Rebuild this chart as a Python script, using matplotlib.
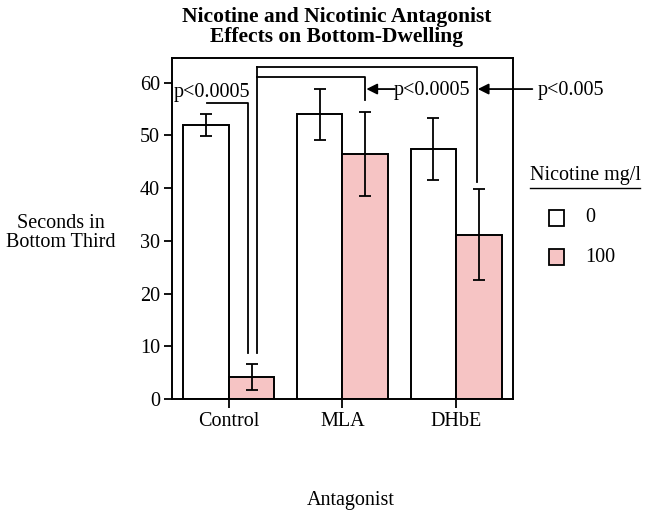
import numpy as np
import matplotlib
matplotlib.use('Agg')
import matplotlib.pyplot as plt
from matplotlib.patches import Rectangle
from matplotlib.lines import Line2D

plt.rcParams['font.family'] = ['Liberation Serif', 'DejaVu Serif']

# data
groups = ['Control', 'MLA', 'DHbE']
nic0 = [52.0, 54.0, 47.5]
nic0_err = [2.1, 4.9, 5.9]
nic100 = [4.2, 46.5, 31.2]
nic100_err = [2.4, 7.9, 8.6]
legend_labels = ['0', '100']
pink = '#f6c4c4'

fig = plt.figure(figsize=(6.47, 5.16), dpi=100)
ax = fig.add_axes([0.2658, 0.2267, 0.5271, 0.661])

x = np.arange(len(groups))
w = 0.4
ekw = dict(ecolor='black', elinewidth=1.3, capsize=4, capthick=1.3)
b0 = ax.bar(x - w/2, nic0, w, yerr=nic0_err, color='white', edgecolor='black',
            linewidth=1.4, error_kw=ekw)
b1 = ax.bar(x + w/2, nic100, w, yerr=nic100_err, color=pink, edgecolor='black',
            linewidth=1.4, error_kw=ekw)

ax.set_xlim(-0.5, 2.5)
ax.set_ylim(0, 64.7)
ax.set_yticks([0, 10, 20, 30, 40, 50, 60])
ax.set_xticks(x)
ax.set_xticklabels(groups)
ax.tick_params(axis='both', labelsize=14.5, width=1.3, direction='out')
ax.tick_params(axis='y', length=5.5, pad=3)
ax.tick_params(axis='x', length=6.5, pad=3)
for s in ax.spines.values():
    s.set_linewidth(1.4)

# significance brackets
lk = dict(color='black', lw=1.3, clip_on=False)
ax.plot([-0.193, 0.168, 0.168], [56.2, 56.2, 8.7], **lk)
ax.plot([0.246, 0.246], [8.7, 63.0], **lk)
ax.plot([0.246, 1.2, 1.2], [61.1, 61.1, 56.7], **lk)
ax.plot([0.246, 2.18, 2.18], [63.0, 63.0, 41.2], **lk)

ax.text(-0.145, 58.2, 'p<0.0005', fontsize=14.5, ha='center', va='center')
ax.text(1.79, 58.6, 'p<0.0005', fontsize=14.5, ha='center', va='center')
ax.text(3.01, 58.6, 'p<0.005', fontsize=14.5, ha='center', va='center', clip_on=False)
ap = dict(arrowstyle='-|>', color='black', lw=1.3, mutation_scale=16, shrinkA=0, shrinkB=0)
ax.annotate('', xy=(1.21, 58.8), xytext=(1.46, 58.8), arrowprops=ap)
ax.annotate('', xy=(2.19, 58.8), xytext=(2.67, 58.8), arrowprops=ap, annotation_clip=False)

# titles and labels
fig.text(337/647, 1 - 27/516, 'Nicotine and Nicotinic Antagonist\nEffects on Bottom-Dwelling',
         fontsize=15.5, fontweight='bold', ha='center', va='center', linespacing=0.95)
fig.text(61/647, 1 - 233/516, 'Seconds in\nBottom Third', fontsize=14.5, ha='center',
         va='center', linespacing=0.95)
fig.text(351/647, 1 - 501/516, 'Antagonist', fontsize=14.5, ha='center', va='center')

# legend
fig.text(585/647, 1 - 176/516, 'Nicotine mg/l', fontsize=14.5, ha='center', va='center')
fig.add_artist(Line2D([530/647, 640/647], [1 - 188/516, 1 - 188/516], color='black',
                      lw=1.0, transform=fig.transFigure))
for i, (lab, bar) in enumerate(zip(legend_labels, [b0, b1])):
    yc = 218 + 39*i
    fig.add_artist(Rectangle((549/647, 1 - (yc + 8)/516), 15/647, 16/516,
                             facecolor=bar.patches[0].get_facecolor(), edgecolor='black',
                             lw=1.3, transform=fig.transFigure))
    fig.text(585/647, 1 - yc/516, lab, fontsize=14.5, ha='left', va='center')

fig.savefig('out.png', dpi=100)
